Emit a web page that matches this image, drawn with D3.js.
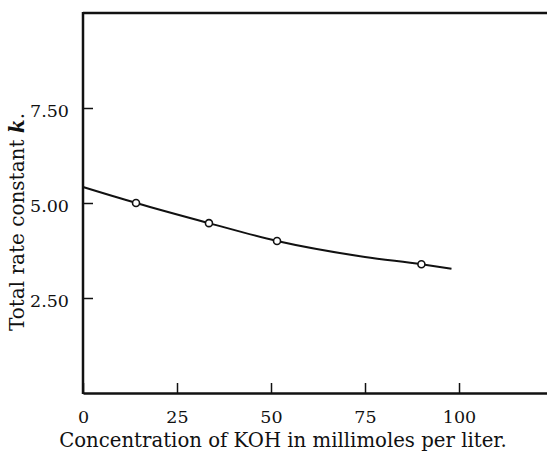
<!DOCTYPE html>
<html>
<head>
<meta charset="utf-8">
<script src="https://cdn.jsdelivr.net/npm/d3@7"></script>
<style>
  body { margin: 0; background: #fff; }
  text { font-family: "DejaVu Serif", serif; fill: #111; }
</style>
</head>
<body>
<svg id="chart" width="547" height="454"></svg>
<script>
// Total rate constant k vs KOH concentration
const koh = [14.1, 33.5, 51.6, 90];          // measured points
const rateK = [5.0, 4.47, 4.0, 3.39];
const curveX = [0, 14.1, 33.5, 51.6, 75, 90, 98];   // drawn smooth curve
const curveY = [5.42, 5.0, 4.47, 4.0, 3.58, 3.39, 3.27];
const xTicks = [0, 25, 50, 75, 100];
const yTicks = [2.5, 5.0, 7.5];

const svg = d3.select("#chart");
const width = 547, height = 454;
const margin = { top: 13, right: 0, bottom: 61, left: 83 };
const serif = "'DejaVu Serif', serif";

const x = d3.scaleLinear()
  .domain([0, 123.4])
  .range([margin.left, width - margin.right]);

const y = d3.scaleLinear()
  .domain([0, 10])
  .range([height - margin.bottom, margin.top]);

// Frame lines: left, top (bottom comes with the axis)
svg.append("line")
  .attr("x1", x(0)).attr("x2", x(0))
  .attr("y1", y(10) - 1).attr("y2", y(0) + 1)
  .attr("stroke", "#111").attr("stroke-width", 2.5);
svg.append("line")
  .attr("x1", x(0)).attr("x2", width)
  .attr("y1", y(10)).attr("y2", y(10))
  .attr("stroke", "#111").attr("stroke-width", 2.5);

// X axis (ticks point inward)
const xAxis = svg.append("g")
  .attr("transform", `translate(0,${y(0)})`)
  .call(d3.axisBottom(x).tickValues(xTicks).tickSizeInner(-10).tickSizeOuter(0).tickPadding(17.5).tickFormat(d3.format("d")));
xAxis.select(".domain").attr("stroke", "#111").attr("stroke-width", 2.5);
xAxis.selectAll(".tick line").attr("stroke", "#111").attr("stroke-width", 1.5);
xAxis.selectAll(".tick text").style("font-size", "17.5px").attr("fill", "#111")
  .style("font-family", serif);

// Y axis
const yAxis = svg.append("g")
  .attr("transform", `translate(${x(0)},0)`)
  .call(d3.axisLeft(y).tickValues(yTicks).tickSizeInner(-10).tickSizeOuter(0).tickPadding(14).tickFormat(d3.format(".2f")));
yAxis.select(".domain").remove();
yAxis.selectAll(".tick line").attr("stroke", "#111").attr("stroke-width", 1.5);
yAxis.selectAll(".tick text").style("font-size", "17.5px").attr("fill", "#111")
  .attr("dy", "0.5em")
  .style("font-family", serif);

// Curve
const line = d3.line()
  .x(d => x(d[0]))
  .y(d => y(d[1]))
  .curve(d3.curveMonotoneX);

svg.append("path")
  .datum(d3.zip(curveX, curveY))
  .attr("fill", "none")
  .attr("stroke", "#111")
  .attr("stroke-width", 2)
  .attr("d", line);

// Data points
svg.selectAll("circle")
  .data(d3.zip(koh, rateK))
  .join("circle")
  .attr("cx", d => x(d[0]))
  .attr("cy", d => y(d[1]))
  .attr("r", 3.5)
  .attr("fill", "#fff")
  .attr("stroke", "#111")
  .attr("stroke-width", 1.6);

// X axis label
svg.append("text")
  .attr("x", 283)
  .attr("y", 447)
  .attr("text-anchor", "middle")
  .style("font-family", serif)
  .style("font-size", "19.7px")
  .text("Concentration of KOH in millimoles per liter.");

// Y axis label
const yl = svg.append("text")
  .attr("transform", "rotate(-90)")
  .attr("x", -222)
  .attr("y", 24)
  .attr("text-anchor", "middle")
  .style("font-family", serif)
  .style("font-size", "20px");
yl.append("tspan").text("Total rate constant ");
yl.append("tspan").style("font-style", "italic").style("font-weight", "bold").text("k");
yl.append("tspan").text(".");
</script>
</body>
</html>
